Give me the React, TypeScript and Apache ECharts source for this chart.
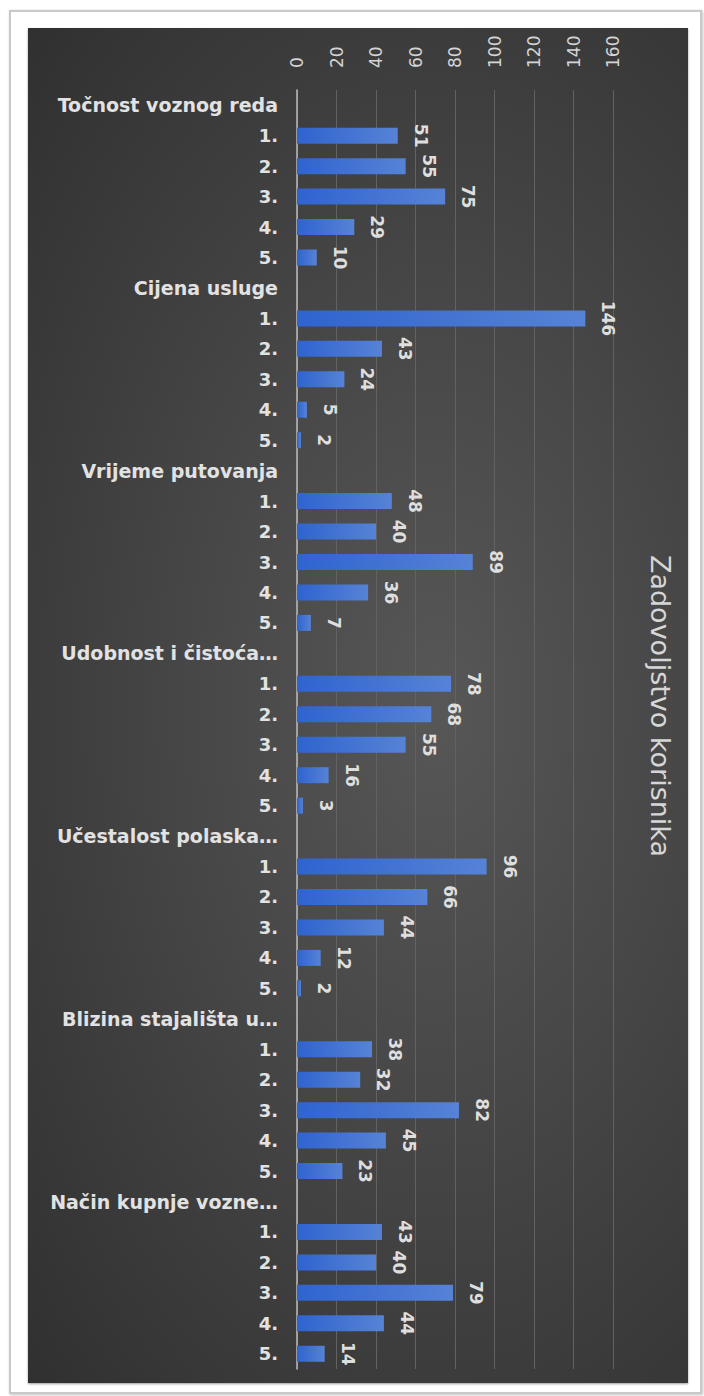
import React, { useEffect, useRef } from "react";
import * as echarts from "echarts";

const groups = [
  "Točnost voznog reda",
  "Cijena usluge",
  "Vrijeme putovanja",
  "Udobnost i čistoća…",
  "Učestalost polaska…",
  "Blizina stajališta u…",
  "Način kupnje vozne…",
];
const ratings = ["1.", "2.", "3.", "4.", "5."];
const tocnost = [51, 55, 75, 29, 10];
const cijena = [146, 43, 24, 5, 2];
const vrijeme = [48, 40, 89, 36, 7];
const udobnost = [78, 68, 55, 16, 3];
const ucestalost = [96, 66, 44, 12, 2];
const blizina = [38, 32, 82, 45, 23];
const nacin = [43, 40, 79, 44, 14];
const groupValues = [tocnost, cijena, vrijeme, udobnost, ucestalost, blizina, nacin];
const xTicks = [0, 20, 40, 60, 80, 100, 120, 140, 160];
const title = "Zadovoljstvo korisnika";

export default function App() {
  const ref = useRef<HTMLDivElement>(null);
  useEffect(() => {
    if (!ref.current) return;
    const chart = echarts.init(ref.current, undefined, { renderer: "svg" });
    const cats: string[] = [];
    const vals: any[] = [];
    groups.forEach((g, i) => {
      cats.push(g);
      vals.push("-");
      ratings.forEach((r, j) => {
        cats.push(r);
        vals.push(groupValues[i][j]);
      });
    });
    chart.setOption({
      animation: false,
      backgroundColor: "transparent",
      grid: { left: 297, right: 91, top: 90, bottom: 27, containLabel: false },
      xAxis: {
        type: "value",
        position: "top",
        min: xTicks[0],
        max: xTicks[xTicks.length - 1],
        interval: 20,
        axisLine: { show: false },
        axisTick: { show: false },
        splitLine: { show: true, lineStyle: { color: "#626262", width: 1 } },
        axisLabel: {
          rotate: -90,
          margin: 22,
          color: "#d4d4d4",
          fontSize: 17,
          fontFamily: "DejaVu Sans",
        },
      },
      yAxis: {
        type: "category",
        inverse: true,
        data: cats,
        axisTick: { show: false },
        axisLine: { show: true, lineStyle: { color: "#bdbdbd", width: 1.5 } },
        axisLabel: {
          interval: 0,
          margin: 19,
          formatter: (v: string) => (ratings.includes(v) ? `{n|${v}}` : `{h|${v}}`),
          rich: {
            h: { fontSize: 19, fontWeight: "bold", color: "#e2e2e2", fontFamily: "DejaVu Sans" },
            n: { fontSize: 18, fontWeight: "bold", color: "#e2e2e2", fontFamily: "DejaVu Sans" },
          },
        },
      },
      series: [
        {
          type: "bar",
          data: vals,
          barWidth: 16,
          itemStyle: {
            color: new echarts.graphic.LinearGradient(0, 0, 1, 0, [
              { offset: 0, color: "#2f63cf" },
              { offset: 1, color: "#5683d6" },
            ]),
          },
          label: {
            show: true,
            position: "right",
            rotate: -90,
            align: "center",
            verticalAlign: "middle",
            distance: 23,
            color: "#dedede",
            fontSize: 17,
            fontWeight: "bold",
            fontFamily: "DejaVu Sans",
          },
        },
      ],
      graphic: [
        {
          type: "text",
          x: 660,
          y: 706,
          rotation: -Math.PI / 2,
          style: {
            text: title,
            fontSize: 27,
            fontFamily: "DejaVu Sans",
            fill: "#d6d6d6",
            textAlign: "center",
            textVerticalAlign: "middle",
          },
        },
      ],
    });
    return () => chart.dispose();
  }, []);

  return (
    <div style={{ position: "absolute", left: 0, top: 0, width: 704, height: 1396, background: "#ffffff" }}>
      <div
        style={{
          position: "absolute",
          left: 9,
          top: 10,
          width: 689,
          height: 1380,
          border: "2px solid #c9c9c9",
          boxShadow: "1px 1px 3px rgba(0,0,0,0.25)",
          background: "#ffffff",
        }}
      />
      <div
        style={{
          position: "absolute",
          left: 28,
          top: 28,
          width: 660,
          height: 1355,
          background: "radial-gradient(ellipse at 62% 50%, #575757 0%, #464646 45%, #303030 100%)",
          boxShadow: "0 1px 2px rgba(0,0,0,0.4)",
        }}
      />
      <div ref={ref} style={{ position: "absolute", left: 0, top: 0, width: 704, height: 1396 }} />
    </div>
  );
}
